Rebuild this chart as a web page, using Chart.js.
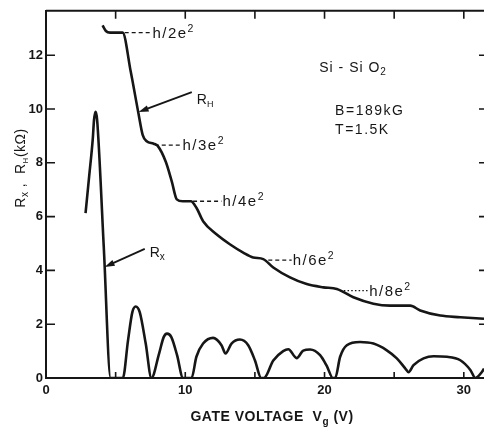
<!DOCTYPE html>
<html>
<head>
<meta charset="utf-8">
<title>Si-SiO2 Hall and longitudinal resistance</title>
<script src="https://cdn.jsdelivr.net/npm/chart.js@4.4.1/dist/chart.umd.min.js"></script>
<style>
  html, body { margin: 0; padding: 0; background: #fff; overflow: hidden; }
</style>
</head>
<body>
<canvas id="chart" width="484" height="427"></canvas>
<script>
// Hall resistance R_H (kOhm) against gate voltage (V)
const hallVoltage = [4.06, 4.3, 4.6, 5.5, 6.08, 6.62, 6.94, 7.23, 7.73, 8.02, 8.6, 9.03, 9.39, 9.82, 10.4,
  10.81, 11.28, 12.24, 13.2, 14.16, 14.88, 15.6, 16.32, 17.52, 18.72, 19.91, 20.88, 22.07, 23.51, 24.71,
  26.15, 26.87, 28.31, 29.75, 31.45];
const hallResistance = [13.11, 12.9, 12.84, 12.84, 11.4, 9.89, 9.04, 8.8, 8.71, 8.63, 8.04, 7.31, 6.64, 6.57, 6.57,
  6.32, 5.83, 5.34, 4.97, 4.66, 4.48, 4.42, 4.11, 3.74, 3.49, 3.37, 3.31, 3.0, 2.76, 2.69,
  2.69, 2.51, 2.32, 2.26, 2.2];

// longitudinal resistance R_x (kOhm)
const longVoltage = [2.84, 3.1, 3.36, 3.45, 3.56, 3.67, 4.15, 4.64,
  5.52, 5.89, 6.2, 6.44, 6.73, 7.16, 7.57,
  8.12, 8.45, 8.69, 9.0, 9.41, 9.84,
  10.45, 10.8, 11.28, 12.0, 12.6, 12.89, 13.32, 13.92, 14.52, 15.0, 15.45,
  15.65, 16.32, 17.03, 17.4, 18.0, 18.47, 18.96, 19.68, 20.16, 20.6,
  20.76, 21.12, 21.6, 22.55, 23.51, 24.47, 25.19, 25.79, 26.03, 26.39, 27.11, 27.83, 28.79, 29.75, 30.47, 30.83, 31.31, 31.45];
const longResistance = [6.13, 7.5, 8.9, 9.6, 9.9, 9.6, 4.85, 0,
  0, 1.4, 2.45, 2.66, 2.45, 1.28, 0,
  0.91, 1.52, 1.65, 1.52, 0.85, 0,
  0, 0.79, 1.28, 1.49, 1.22, 0.91, 1.28, 1.43, 1.22, 0.66, 0,
  0, 0.65, 1.0, 1.07, 0.74, 1.02, 1.06, 0.85, 0.45, 0,
  0, 0.79, 1.22, 1.34, 1.28, 1.03, 0.73, 0.36, 0.22, 0.48, 0.73, 0.81, 0.79, 0.66, 0.3, 0, 0.23, 0.35];

// quantized plateaus h/ie^2
const plateauLabels = ["h/2e²", "h/3e²", "h/4e²", "h/6e²", "h/8e²"];
const plateauStart = [5.65, 7.81, 10.56, 15.96, 21.12];
const plateauEnd = [7.57, 9.73, 12.6, 17.64, 23.13];
const plateauLevel = [12.84, 8.66, 6.57, 4.38, 3.25];

const xTickMarks = [5, 10, 15, 20, 25, 30];
const yTickMarks = [2, 4, 6, 8, 10, 12];

const FONT = '"Liberation Sans", Arial, sans-serif';
const INK = "#161616";

const toPoints = (xs, ys) => xs.map((v, i) => ({ x: v, y: ys[i] }));

/**
 * Draw a run of text pieces (for sub/superscripts) in one line.
 */
function drawParts(ctx, parts, x, y, align) {
  let width = 0;
  parts.forEach((p) => {
    ctx.font = `${p.bold ? "bold " : ""}${p.size}px ${FONT}`;
    width += ctx.measureText(p.t).width;
  });
  let cx = align === "center" ? x - width / 2 : x;
  parts.forEach((p) => {
    ctx.font = `${p.bold ? "bold " : ""}${p.size}px ${FONT}`;
    ctx.fillText(p.t, cx, y + (p.dy || 0));
    cx += ctx.measureText(p.t).width;
  });
}

function drawArrow(ctx, x0, y0, x1, y1) {
  const ang = Math.atan2(y1 - y0, x1 - x0);
  const len = 10, half = 3.2;
  ctx.beginPath();
  ctx.moveTo(x0, y0);
  ctx.lineTo(x1 - Math.cos(ang) * len * 0.8, y1 - Math.sin(ang) * len * 0.8);
  ctx.stroke();
  ctx.beginPath();
  ctx.moveTo(x1, y1);
  ctx.lineTo(x1 - Math.cos(ang) * len + Math.sin(ang) * half, y1 - Math.sin(ang) * len - Math.cos(ang) * half);
  ctx.lineTo(x1 - Math.cos(ang) * len - Math.sin(ang) * half, y1 - Math.sin(ang) * len + Math.cos(ang) * half);
  ctx.closePath();
  ctx.fill();
}

const decorPlugin = {
  id: "decor",
  afterDraw(chart) {
    const { ctx, chartArea: a, scales: { x, y } } = chart;
    ctx.save();
    ctx.strokeStyle = INK;
    ctx.fillStyle = INK;

    // top frame line
    ctx.lineWidth = 2;
    ctx.beginPath();
    ctx.moveTo(a.left, a.top);
    ctx.lineTo(a.right, a.top);
    ctx.stroke();

    // inward tick marks
    ctx.lineWidth = 1.6;
    xTickMarks.forEach((v) => {
      const px = x.getPixelForValue(v);
      ctx.beginPath();
      ctx.moveTo(px, a.top);
      ctx.lineTo(px, a.top + 8);
      ctx.moveTo(px, a.bottom);
      ctx.lineTo(px, a.bottom - 6);
      ctx.stroke();
    });
    yTickMarks.forEach((r) => {
      const py = y.getPixelForValue(r);
      ctx.beginPath();
      ctx.moveTo(a.left, py);
      ctx.lineTo(a.left + 9, py);
      ctx.moveTo(a.right, py);
      ctx.lineTo(a.right - 5, py);
      ctx.stroke();
    });

    // plateau labels
    ctx.letterSpacing = "1.5px";
    ctx.textBaseline = "alphabetic";
    plateauLabels.forEach((lab, i) => {
      const px = x.getPixelForValue(plateauEnd[i]) + 1;
      const py = y.getPixelForValue(plateauLevel[i]) + 5;
      drawParts(ctx, [
        { t: lab.slice(0, -1), size: 15 },
        { t: "2", size: 10.5, dy: -6 },
      ], px, py, "left");
    });

    // sample annotations
    ctx.letterSpacing = "1px";
    drawParts(ctx, [
      { t: "Si - Si O", size: 14 },
      { t: "2", size: 10, dy: 3 },
    ], x.getPixelForValue(22.05), y.getPixelForValue(11.55) + 5, "center");
    ctx.letterSpacing = "1.5px";
    drawParts(ctx, [{ t: "B=189kG", size: 14 }], x.getPixelForValue(20.76), y.getPixelForValue(9.96) + 5, "left");
    drawParts(ctx, [{ t: "T=1.5K", size: 14 }], x.getPixelForValue(20.76), y.getPixelForValue(9.26) + 5, "left");

    // curve labels and arrows
    ctx.letterSpacing = "0px";
    drawParts(ctx, [
      { t: "R", size: 14 },
      { t: "H", size: 9, dy: 3 },
    ], x.getPixelForValue(10.83), y.getPixelForValue(10.37) + 5, "left");
    drawParts(ctx, [
      { t: "R", size: 14 },
      { t: "x", size: 10, dy: 3 },
    ], x.getPixelForValue(7.45), y.getPixelForValue(4.69) + 5, "left");
    ctx.lineWidth = 1.8;
    drawArrow(ctx, x.getPixelForValue(10.47), y.getPixelForValue(10.63),
      x.getPixelForValue(6.65), y.getPixelForValue(9.89));
    drawArrow(ctx, x.getPixelForValue(7.09), y.getPixelForValue(4.8),
      x.getPixelForValue(4.21), y.getPixelForValue(4.13));

    // axis titles
    ctx.letterSpacing = "0.5px";
    drawParts(ctx, [
      { t: "GATE VOLTAGE  V", size: 14, bold: true },
      { t: "g", size: 10, bold: true, dy: 4 },
      { t: " (V)", size: 14, bold: true },
    ], 272, 421, "center");

    ctx.translate(25, 168);
    ctx.rotate(-Math.PI / 2);
    ctx.letterSpacing = "0.5px";
    drawParts(ctx, [
      { t: "R", size: 14 },
      { t: "x", size: 10, dy: 3 },
      { t: " ,  R", size: 14 },
      { t: "H", size: 8, dy: 3 },
      { t: "(kΩ)", size: 14 },
    ], 0, 0, "center");
    ctx.restore();
  },
};

const plateauSets = plateauLabels.map((lab, i) => ({
  label: lab,
  data: [{ x: plateauStart[i], y: plateauLevel[i] }, { x: plateauEnd[i], y: plateauLevel[i] }],
  borderColor: INK,
  borderWidth: 1.3,
  borderDash: i === 4 ? [1.5, 2.2] : [4, 3],
  pointRadius: 0,
}));

new Chart(document.getElementById("chart").getContext("2d"), {
  type: "line",
  data: {
    datasets: [
      {
        label: "R_H",
        data: toPoints(hallVoltage, hallResistance),
        borderColor: INK,
        borderWidth: 2.6,
        pointRadius: 0,
        cubicInterpolationMode: "monotone",
      },
      {
        label: "R_x",
        data: toPoints(longVoltage, longResistance),
        borderColor: INK,
        borderWidth: 2.6,
        pointRadius: 0,
        cubicInterpolationMode: "monotone",
      },
      ...plateauSets,
    ],
  },
  options: {
    responsive: false,
    animation: false,
    devicePixelRatio: 1,
    layout: { padding: { top: 8, right: 0, left: 0, bottom: 0 } },
    plugins: { legend: { display: false }, tooltip: { enabled: false } },
    scales: {
      x: {
        type: "linear",
        min: 0,
        max: 31.45,
        afterFit: (s) => { s.height = 49; },
        grid: { display: false, drawTicks: false },
        border: { display: true, color: INK, width: 2 },
        ticks: {
          stepSize: 10,
          includeBounds: false,
          padding: 5,
          color: INK,
          maxRotation: 0,
          font: { family: FONT, size: 13, weight: "bold" },
        },
      },
      y: {
        type: "linear",
        min: 0,
        max: 13.65,
        afterFit: (s) => { s.width = 46; },
        grid: { display: false, drawTicks: false },
        border: { display: true, color: INK, width: 2 },
        ticks: {
          stepSize: 2,
          includeBounds: false,
          padding: 3,
          color: INK,
          font: { family: FONT, size: 13, weight: "bold" },
        },
      },
    },
  },
  plugins: [decorPlugin],
});
</script>
</body>
</html>
